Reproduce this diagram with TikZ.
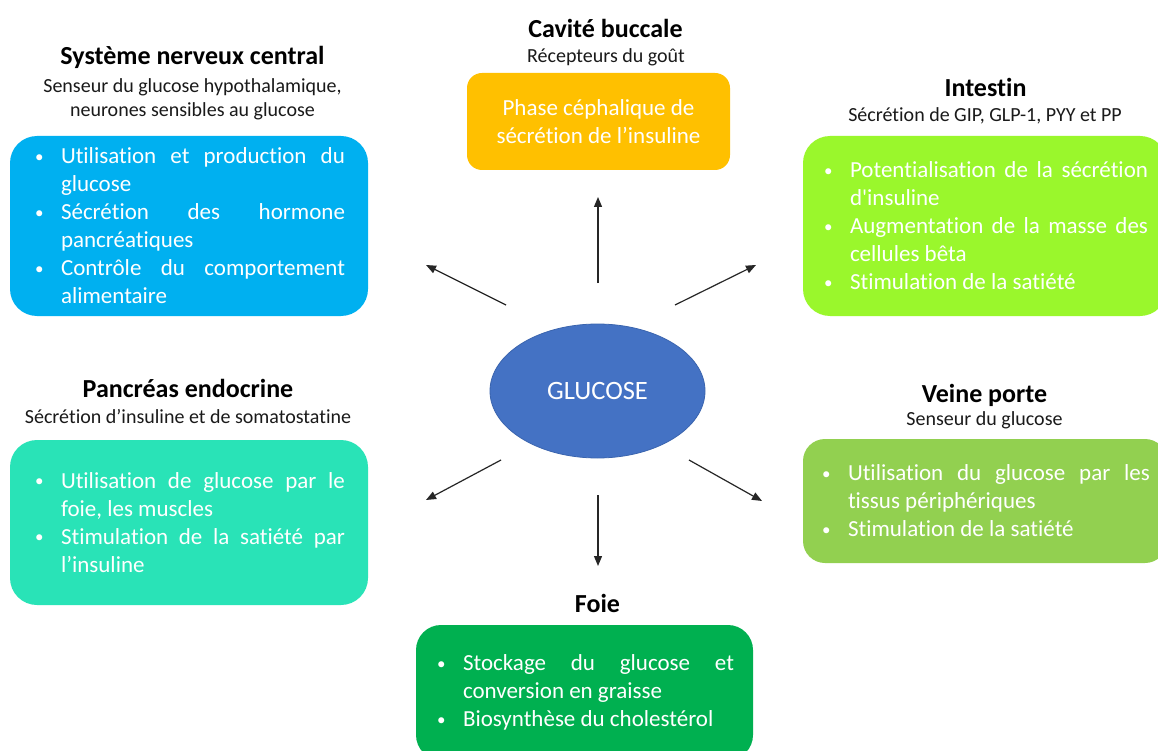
\documentclass[tikz,border=0pt]{standalone}
\usepackage{fontspec}
\setmainfont{Carlito}[Ligatures={NoCommon}]
\usetikzlibrary{arrows.meta,shapes.geometric}
\definecolor{cnsC}{HTML}{00B0F0}
\definecolor{bucC}{HTML}{FFC000}
\definecolor{intC}{HTML}{9AF72C}
\definecolor{panC}{HTML}{29E3B7}
\definecolor{veiC}{HTML}{92D050}
\definecolor{foiC}{HTML}{00B050}
\definecolor{glcC}{HTML}{4472C4}
\definecolor{glcD}{HTML}{3A64AE}
\definecolor{subC}{HTML}{1A1A1A}
\newcommand{\smbullet}{\hspace*{2pt}\raisebox{1.5pt}{\fontsize{17}{17}\selectfont\textbullet}}
\newenvironment{blt}[1]{\begin{minipage}{#1}\fontsize{23}{28}\selectfont\hyphenpenalty=10000\emergencystretch=20pt
  \begin{list}{\smbullet}{\setlength{\leftmargin}{28pt}\setlength{\labelwidth}{28pt}\setlength{\labelsep}{0pt}%
  \setlength{\itemsep}{0pt}\setlength{\parsep}{0pt}\setlength{\topsep}{0pt}\setlength{\partopsep}{0pt}%
  \renewcommand{\makelabel}[1]{##1\hfil}}}{\end{list}\end{minipage}}
\tikzset{
  box/.style={rounded corners=27pt, text=white, inner sep=0pt},
  ttl/.style={font=\bfseries\fontsize{26}{31}\selectfont, anchor=base, text=black, inner sep=0pt},
  sub/.style={font=\fontsize{20}{24}\selectfont, anchor=base, text=subC, inner sep=0pt},
  arr/.style={-{Triangle[length=10pt,width=8pt]}, line width=1.2pt, draw=black!85},
}
\begin{document}
\begin{tikzpicture}[x=1pt,y=-1pt]
\clip (0,0) rectangle (1158,751);
\fill[white] (0,0) rectangle (1158,751);

% Systeme nerveux central
\node[ttl] (cnsT) at (192.5,65) {Système nerveux central};
\node[sub] (cnsS1) at (192.5,93) {Senseur du glucose hypothalamique,};
\node[sub] (cnsS2) at (192.5,117) {neurones sensibles au glucose};
\node[box, fill=cnsC, minimum width=358pt, minimum height=180pt] (cns) at (189,226)
 {\begin{blt}{312pt}
 \item Utilisation et production du \linebreak glucose
 \item Sécrétion des hormone \linebreak pancréatiques
 \item Contrôle du comportement \linebreak alimentaire
 \end{blt}};

% Cavite buccale
\node[ttl] (bucT) at (605.5,38) {Cavité buccale};
\node[sub] (bucS) at (606,63) {Récepteurs du goût};
\node[box, rounded corners=15pt, fill=bucC, minimum width=263pt, minimum height=97pt, align=center,
  font=\fontsize{23}{28}\selectfont] (buc) at (598.5,121.5)
 {Phase céphalique de\\sécrétion de l’insuline};

% Intestin
\node[ttl] (intT) at (985.5,97) {Intestin};
\node[sub] (intS) at (985,122) {Sécrétion de GIP, GLP-1, PYY et PP};
\node[box, fill=intC, minimum width=364pt, minimum height=180pt] (int) at (985,226)
 {\begin{blt}{326pt}
 \item Potentialisation de la sécrétion \linebreak d\textquotesingle insuline
 \item Augmentation de la masse des \linebreak cellules bêta
 \item Stimulation de la satiété
 \end{blt}};

% Pancreas endocrine
\node[ttl] (panT) at (188,397) {Pancréas endocrine};
\node[sub] (panS) at (188,423) {Sécrétion d’insuline et de somatostatine};
\node[box, fill=panC, minimum width=358pt, minimum height=165pt] (pan) at (189,522.5)
 {\begin{blt}{312pt}
 \item Utilisation de glucose par le \linebreak foie, les muscles
 \item Stimulation de la satiété par \linebreak l’insuline
 \end{blt}};

% Veine porte
\node[ttl] (veiT) at (984.5,402) {Veine porte};
\node[sub] (veiS) at (984.5,425) {Senseur du glucose};
\node[box, rounded corners=22pt, fill=veiC, minimum width=364pt, minimum height=124pt] (vei) at (985,501)
 {\begin{blt}{330pt}
 \item Utilisation du glucose par les \linebreak tissus périphériques
 \item Stimulation de la satiété
 \end{blt}};

% Foie
\node[ttl] (foiT) at (597.5,612) {Foie};
\node[box, rounded corners=25pt, fill=foiC, minimum width=337pt, minimum height=135pt] (foi) at (584.5,692.5)
 {\begin{blt}{299pt}
 \item Stockage du glucose et \linebreak conversion en graisse
 \item Biosynthèse du cholestérol
 \end{blt}};

% Glucose
\node[ellipse, fill=glcC, draw=glcD, line width=0.8pt, minimum width=215pt, minimum height=134pt,
  text=white, font=\fontsize{26.5}{31}\selectfont] (glc) at (597.5,391) {GLUCOSE};

% arrows
\coordinate (aUs) at (598,283);  \coordinate (aUe) at (598,197);
\coordinate (aULs) at (506,305); \coordinate (aULe) at (426,265);
\coordinate (aURs) at (675,305); \coordinate (aURe) at (756,265);
\coordinate (aDLs) at (501,460); \coordinate (aDLe) at (426,500);
\coordinate (aDs) at (598,495);  \coordinate (aDe) at (598,566);
\coordinate (aDRs) at (689,460); \coordinate (aDRe) at (762,501);
\draw[arr] (aUs) -- (aUe);
\draw[arr] (aULs) -- (aULe);
\draw[arr] (aURs) -- (aURe);
\draw[arr] (aDLs) -- (aDLe);
\draw[arr] (aDs) -- (aDe);
\draw[arr] (aDRs) -- (aDRe);
\end{tikzpicture}
\end{document}
